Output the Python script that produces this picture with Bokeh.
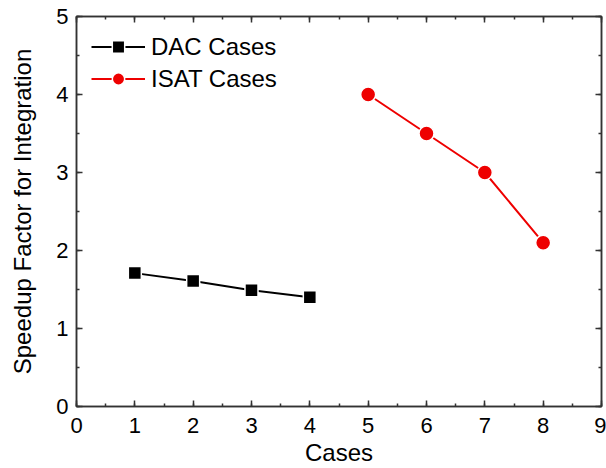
from bokeh.plotting import figure
from bokeh.models import LinearAxis, SingleIntervalTicker, Range1d, Legend, LegendItem
from bokeh.embed import file_html
from bokeh.resources import INLINE

dac_x = [1, 2, 3, 4]
dac_y = [1.71, 1.61, 1.49, 1.40]
isat_x = [5, 6, 7, 8]
isat_y = [4.0, 3.5, 3.0, 2.1]
x_label = "Cases"
y_label = "Speedup Factor for Integration"

FONT = "Liberation Sans"

p = figure(width=606, height=468, output_backend="svg", toolbar_location=None,
           x_range=Range1d(0, 9), y_range=Range1d(0, 5),
           min_border_left=76, min_border_right=5, min_border_top=16, min_border_bottom=60,
           x_axis_location=None, y_axis_location=None)
p.grid.visible = False
p.outline_line_color = "#333333"
p.outline_line_width = 1.5
p.background_fill_color = "white"
p.border_fill_color = "white"


def style_axis(ax, labels=True):
    ax.ticker = SingleIntervalTicker(interval=1, num_minor_ticks=2)
    ax.major_tick_in = 6
    ax.major_tick_out = 0
    ax.minor_tick_in = 3
    ax.minor_tick_out = 0
    ax.axis_line_color = "#333333"
    ax.axis_line_width = 1.5
    ax.major_tick_line_color = "#333333"
    ax.major_tick_line_width = 1.5
    ax.minor_tick_line_color = "#333333"
    ax.minor_tick_line_width = 1.5
    ax.major_label_text_font = FONT
    ax.major_label_text_font_size = "22px"
    ax.major_label_text_color = "black"
    ax.axis_label_text_font = FONT
    ax.axis_label_text_font_size = "24px"
    ax.axis_label_text_font_style = "normal"
    ax.axis_label_text_color = "black"
    if not labels:
        ax.major_label_text_font_size = "0px"
        ax.major_label_text_alpha = 0


xb = LinearAxis(axis_label=x_label)
style_axis(xb)
xb.major_label_standoff = 11
xb.axis_label_standoff = 3
p.add_layout(xb, "below")

yl = LinearAxis(axis_label=y_label)
style_axis(yl)
yl.major_label_standoff = 8
yl.axis_label_standoff = 17
p.add_layout(yl, "left")

xt = LinearAxis()
style_axis(xt, labels=False)
p.add_layout(xt, "above")

yr = LinearAxis()
style_axis(yr, labels=False)
p.add_layout(yr, "right")

l1 = p.line(dac_x, dac_y, line_color="black", line_width=2)
s1 = p.scatter(dac_x, dac_y, marker="square", size=13, fill_color="black",
               line_color="white", line_width=1.5)
l2 = p.line(isat_x, isat_y, line_color="#ee0000", line_width=2)
s2 = p.scatter(isat_x, isat_y, marker="circle", size=15, fill_color="#ee0000",
               line_color="white", line_width=1.5)

legend = Legend(items=[LegendItem(label="DAC Cases", renderers=[l1, s1]),
                       LegendItem(label="ISAT Cases", renderers=[l2, s2])],
                location="top_left")
legend.border_line_color = None
legend.background_fill_alpha = 0
legend.label_text_font = FONT
legend.label_text_font_size = "24px"
legend.label_text_color = "black"
legend.glyph_width = 54
legend.glyph_height = 31
legend.label_height = 31
legend.spacing = 1
legend.margin = 15
legend.padding = 11
legend.label_standoff = 6
p.add_layout(legend, "center")

open("out.html", "w").write(file_html(p, INLINE))
